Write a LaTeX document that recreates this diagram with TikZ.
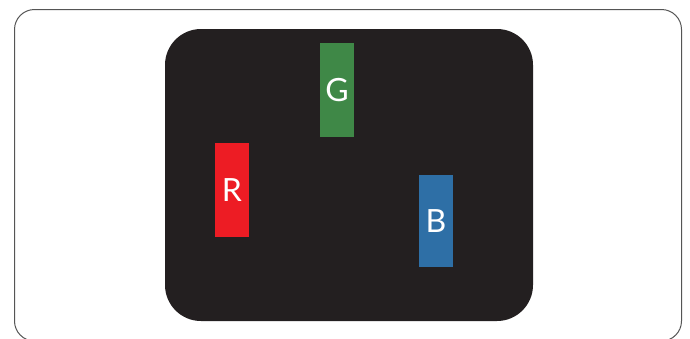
\documentclass[tikz,border=0pt]{standalone}
\usepackage{fontspec}
\setmainfont{Lato}
\definecolor{panel}{HTML}{231F20}
\definecolor{rcol}{HTML}{ED1C24}
\definecolor{gcol}{HTML}{3F8847}
\definecolor{bcol}{HTML}{2E6FA6}
\definecolor{framecol}{HTML}{555555}
\tikzset{
  subpix/.style={minimum width=34pt, minimum height=94pt, inner sep=0pt, text=white, font=\fontsize{32}{32}\selectfont},
}
\begin{document}
\begin{tikzpicture}[x=1pt,y=-1pt]
\useasboundingbox (0,0) rectangle (690,338);
\fill[white] (0,0) rectangle (690,338);
\draw[framecol, line width=1pt, rounded corners=20pt] (14.5,9.5) rectangle (681.5,341);
\fill[panel, rounded corners=36pt] (165,29) rectangle (533,321);
\node[subpix, fill=gcol] (G) at (337,90) {G};
\node[subpix, fill=rcol] (R) at (232,190) {R};
\node[subpix, fill=bcol, minimum height=92pt] (B) at (436,221) {B};
\end{tikzpicture}
\end{document}
